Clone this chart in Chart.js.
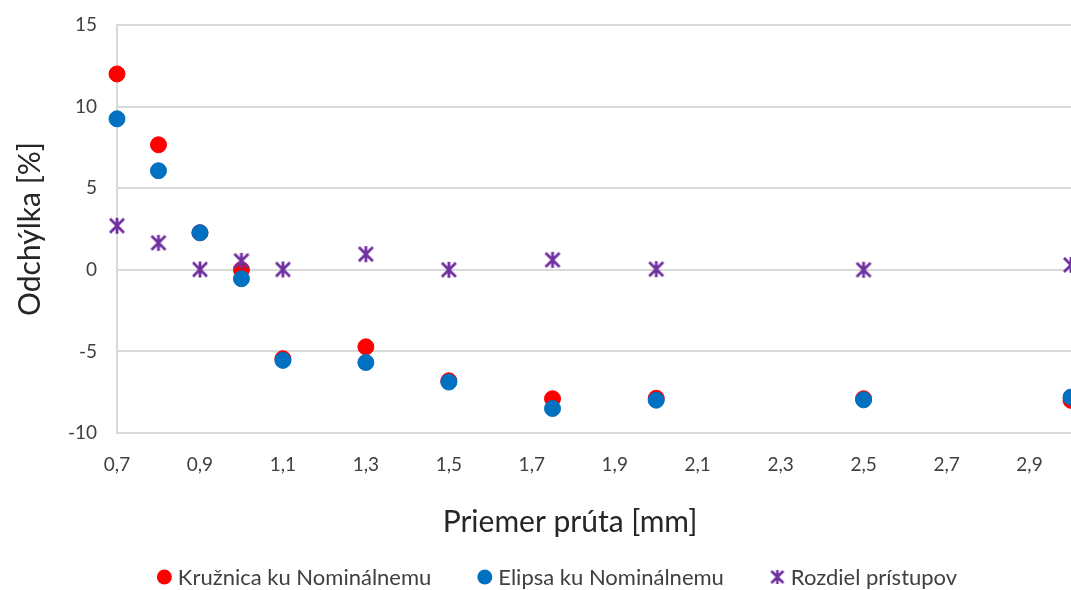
<!DOCTYPE html>
<html lang="sk">
<head>
    <meta charset="UTF-8">
    <title>Odchýlka</title>
    <script src="https://cdn.jsdelivr.net/npm/chart.js"></script>
    <style>
        html, body { margin: 0; padding: 0; background: #ffffff; overflow: hidden; }
        #wrap { width: 1071px; height: 590px; }
    </style>
</head>
<body>
    <div id="wrap"><canvas id="chart"></canvas></div>
    <script>
        // hodnoty odčítané z grafu
        const priemer = [0.7, 0.8, 0.9, 1.0, 1.1, 1.3, 1.5, 1.75, 2.0, 2.5, 3.0];
        const kruznica = [12.0, 7.66, 2.27, 0.0, -5.45, -4.72, -6.8, -7.9, -7.87, -7.9, -8.0];
        const elipsa = [9.25, 6.07, 2.27, -0.55, -5.55, -5.68, -6.88, -8.5, -7.99, -7.97, -7.8];
        const rozdiel = [2.7, 1.65, 0.02, 0.55, 0.02, 0.96, 0.0, 0.61, 0.04, 0.0, 0.3];
        const xTicks = [0.7, 0.9, 1.1, 1.3, 1.5, 1.7, 1.9, 2.1, 2.3, 2.5, 2.7, 2.9];
        const yTicks = [-10, -5, 0, 5, 10, 15];
        const xNazov = 'Priemer prúta [mm]';

        const font = 'Lato, "Open Sans", sans-serif';

        // hviezdička ako v Exceli (X + zvislá čiara)
        function starMarker(size, color, lw) {
            const c = document.createElement('canvas');
            c.width = size; c.height = size;
            const g = c.getContext('2d');
            g.strokeStyle = color;
            g.lineWidth = lw;
            const p = 2, s = size - 2;
            g.beginPath();
            g.moveTo(p, p); g.lineTo(s, s);
            g.moveTo(s, p); g.lineTo(p, s);
            g.moveTo(size / 2, 1); g.lineTo(size / 2, size - 1);
            g.stroke();
            return c;
        }

        const legendStar = starMarker(16, '#7030a0', 2.6);
        const pts = (ys) => priemer.map((x, i) => ({ x: x, y: ys[i] }));

        // názov osi x a legenda dole - kreslené ručne (posunutý názov, veľké medzery v legende)
        const popisyPlugin = {
            id: 'popisy',
            afterDraw(chart) {
                const ctx = chart.ctx;
                const sets = chart.data.datasets;
                ctx.save();
                ctx.textBaseline = 'middle';

                ctx.font = '30px ' + font;
                ctx.fillStyle = '#262626';
                ctx.textAlign = 'center';
                ctx.fillText(xNazov, 570, 522);

                const y = 577, gap = 46, mark = 15, textGap = 6;
                ctx.textAlign = 'left';
                ctx.font = '22px ' + font;
                const widths = sets.map(d => mark + textGap + ctx.measureText(d.label).width);
                const total = widths.reduce((a, b) => a + b, 0) + gap * (sets.length - 1);
                let x = 557 - total / 2;
                sets.forEach((d, i) => {
                    if (d.pointStyle === 'circle') {
                        ctx.beginPath();
                        ctx.fillStyle = d.backgroundColor;
                        ctx.arc(x + mark / 2, y, mark / 2, 0, Math.PI * 2);
                        ctx.fill();
                    } else {
                        ctx.drawImage(legendStar, x + (mark - legendStar.width) / 2, y - legendStar.height / 2);
                    }
                    ctx.fillStyle = '#404040';
                    ctx.fillText(d.label, x + mark + textGap, y + 1);
                    x += widths[i] + gap;
                });
                ctx.restore();
            }
        };

        new Chart(document.getElementById('chart'), {
            type: 'scatter',
            data: {
                datasets: [{
                    label: 'Kružnica ku Nominálnemu',
                    data: pts(kruznica),
                    backgroundColor: '#ff0000',
                    borderColor: '#ff0000',
                    pointStyle: 'circle',
                    pointRadius: 8,
                    pointHoverRadius: 8,
                    clip: false,
                    order: 3
                }, {
                    label: 'Elipsa ku Nominálnemu',
                    data: pts(elipsa),
                    backgroundColor: '#0070c0',
                    borderColor: '#0070c0',
                    pointStyle: 'circle',
                    pointRadius: 8,
                    pointHoverRadius: 8,
                    clip: false,
                    order: 2
                }, {
                    label: 'Rozdiel prístupov',
                    data: pts(rozdiel),
                    backgroundColor: '#7030a0',
                    borderColor: '#7030a0',
                    pointStyle: starMarker(18, '#7030a0', 2.8),
                    pointRadius: 9,
                    clip: false,
                    order: 1
                }]
            },
            plugins: [popisyPlugin],
            options: {
                responsive: true,
                maintainAspectRatio: false,
                animation: false,
                layout: { autoPadding: false, padding: { top: 25, right: 0, left: 0, bottom: 50 } },
                scales: {
                    x: {
                        type: 'linear',
                        min: 0.7,
                        max: 3.0,
                        afterBuildTicks: (scale) => { scale.ticks = xTicks.map(v => ({ value: v })); },
                        afterFit: (scale) => {
                            scale.paddingLeft = 0;
                            scale.paddingRight = 0;
                            scale.height = 107;
                        },
                        ticks: {
                            color: '#404040',
                            padding: 20,
                            font: { family: font, size: 19 },
                            callback: (v) => v.toFixed(1).replace('.', ',')
                        },
                        grid: { display: false, drawTicks: false },
                        border: { display: true, color: '#d9d9d9', width: 2 }
                    },
                    y: {
                        min: -10,
                        max: 15,
                        afterBuildTicks: (scale) => { scale.ticks = yTicks.map(v => ({ value: v })); },
                        afterFit: (scale) => {
                            scale.width = 117;
                            scale.paddingTop = 0;
                            scale.paddingBottom = 0;
                        },
                        ticks: {
                            color: '#404040',
                            padding: 20,
                            font: { family: font, size: 19 }
                        },
                        grid: { color: '#d9d9d9', lineWidth: 2, drawTicks: false },
                        border: { display: true, color: '#d9d9d9', width: 2 },
                        title: {
                            display: true,
                            text: 'Odchýlka [%]',
                            color: '#262626',
                            font: { family: font, size: 30 },
                            padding: { top: 12, bottom: 0 }
                        }
                    }
                },
                plugins: {
                    legend: { display: false },
                    tooltip: { enabled: false }
                }
            }
        });
    </script>
</body>
</html>
